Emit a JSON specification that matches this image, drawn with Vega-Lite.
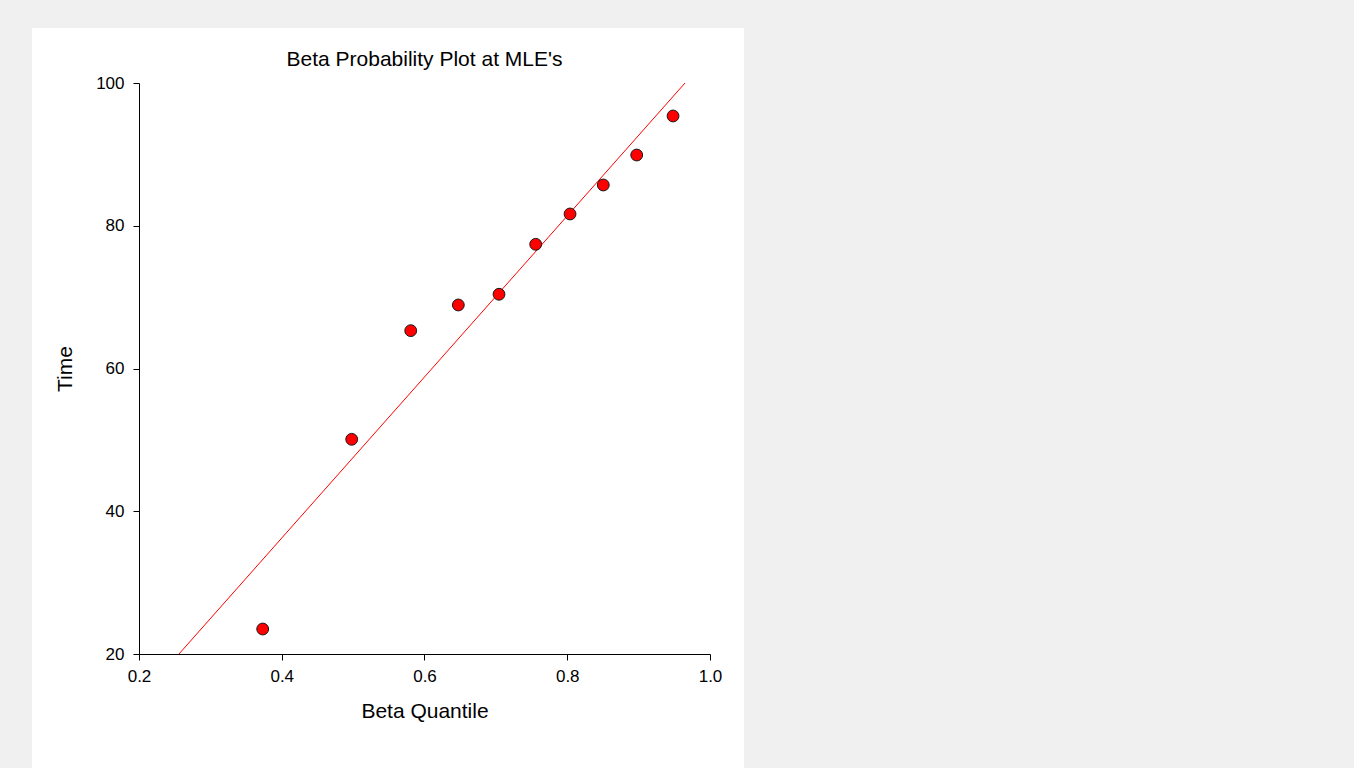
{
  "$schema": "https://vega.github.io/schema/vega-lite/v6.json",
  "background": "white",
  "padding": 0,
  "spacing": 0,
  "config": {
    "font": "Liberation Sans",
    "view": {"stroke": null},
    "axis": {
      "grid": false,
      "domainColor": "black",
      "tickColor": "black",
      "labelColor": "black",
      "titleColor": "black",
      "labelFont": "Liberation Sans",
      "titleFont": "Liberation Sans",
      "labelFontSize": 17,
      "titleFontSize": 21,
      "titleFontWeight": "normal",
      "tickSize": 6,
      "labelFlush": false
    }
  },
  "datasets": {
    "points": [
      {"quantile": 0.3733, "time": 23.5},
      {"quantile": 0.498, "time": 50.08},
      {"quantile": 0.5807, "time": 65.3},
      {"quantile": 0.6474, "time": 68.9},
      {"quantile": 0.7044, "time": 70.4},
      {"quantile": 0.7558, "time": 77.4},
      {"quantile": 0.8039, "time": 81.65},
      {"quantile": 0.8505, "time": 85.71},
      {"quantile": 0.8973, "time": 89.91},
      {"quantile": 0.9482, "time": 95.38}
    ],
    "fit": [
      {"quantile": 0.256, "time": 20},
      {"quantile": 0.965, "time": 100}
    ]
  },
  "vconcat": [
    {
      "width": 1354,
      "height": 28,
      "data": {"values": []},
      "mark": "point",
      "view": {"fill": "#f0f0f0", "stroke": null}
    },
    {
      "spacing": 22,
      "center": true,
      "hconcat": [
        {
          "width": 32,
          "height": 748,
          "data": {"values": []},
          "mark": "point",
          "view": {"fill": "#f0f0f0", "stroke": null}
        },
        {
          "width": 571,
          "height": 571,
          "title": {
            "text": "Beta Probability Plot at MLE's",
            "fontSize": 21,
            "fontWeight": "normal",
            "color": "black",
            "font": "Liberation Sans",
            "offset": 4
          },
          "encoding": {
            "x": {
              "field": "quantile",
              "type": "quantitative",
              "title": "Beta Quantile",
              "scale": {"domain": [0.2, 1.0], "nice": false, "zero": false},
              "axis": {"values": [0.2, 0.4, 0.6, 0.8, 1.0], "format": ".1f", "labelPadding": 8, "titlePadding": 16}
            },
            "y": {
              "field": "time",
              "type": "quantitative",
              "title": "Time",
              "scale": {"domain": [20, 100], "nice": false, "zero": false},
              "axis": {"values": [20, 40, 60, 80, 100], "labelPadding": 9, "titlePadding": 20}
            }
          },
          "layer": [
            {
              "data": {"name": "fit"},
              "mark": {"type": "line", "color": "#ff0000", "strokeWidth": 1, "clip": true}
            },
            {
              "data": {"name": "points"},
              "mark": {"type": "circle", "size": 140, "fill": "#ff0000", "stroke": "#1a1a1a", "strokeWidth": 1, "opacity": 1}
            }
          ]
        },
        {
          "width": 610,
          "height": 748,
          "data": {"values": []},
          "mark": "point",
          "view": {"fill": "#f0f0f0", "stroke": null}
        }
      ]
    }
  ]
}
